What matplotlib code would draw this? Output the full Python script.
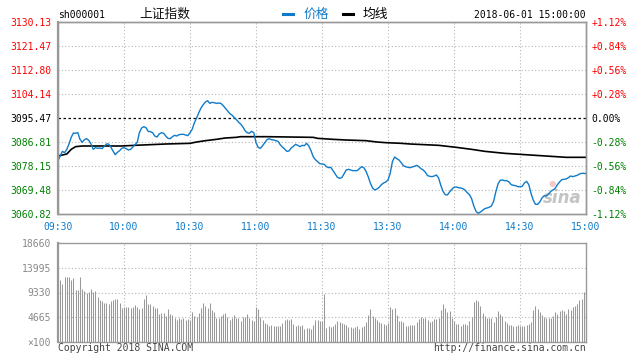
import matplotlib
matplotlib.use("Agg")
import matplotlib.pyplot as plt
from matplotlib.lines import Line2D

plt.rcParams["font.family"] = ["DejaVu Sans Mono", "Noto Sans CJK SC"]

# ---- data (SSE Composite, 2018-06-01) ----
prev_close = 3095.47
price_ticks = [3060.82, 3069.48, 3078.15, 3086.81, 3095.47, 3104.14, 3112.80, 3121.47, 3130.13]
pct_labels = ["-1.12%", "-0.84%", "-0.56%", "-0.28%", "0.00%", "+0.28%", "+0.56%", "+0.84%", "+1.12%"]
time_labels = ["09:30", "10:00", "10:30", "11:00", "11:30", "13:30", "14:00", "14:30", "15:00"]
vol_ticks = [0, 4665, 9330, 13995, 18660]
vol_labels = ["\u00d7100", "4665", "9330", "13995", "18660"]

# one price per minute, 09:30 .. 11:30 then 13:01 .. 15:00
price = [
    3080.07, 3081.76, 3083.44, 3082.96, 3084.16, 3086.09, 3088.49, 3090.06, 3089.94, 3090.18,
    3087.77, 3086.69, 3087.65, 3088.01, 3087.41, 3086.09, 3084.16, 3084.76, 3084.52, 3084.64,
    3084.40, 3085.25, 3086.09, 3086.09, 3085.01, 3083.56, 3082.24, 3083.08, 3083.68, 3084.52,
    3084.76,
    3084.40, 3083.92, 3084.16, 3085.01, 3085.85, 3086.69, 3090.18, 3091.86, 3092.34, 3091.98,
    3090.66, 3090.54, 3090.18, 3088.97, 3088.61, 3089.70, 3090.18, 3089.94, 3088.97, 3088.13,
    3088.01, 3088.73, 3089.22, 3088.97, 3089.46, 3089.58, 3089.58, 3089.34, 3089.10, 3090.18,
    3091.38, 3093.79, 3095.47, 3097.39, 3099.08, 3100.28, 3101.24, 3101.72, 3100.76, 3101.12,
    3101.00, 3100.76, 3100.88, 3100.76, 3100.04, 3099.08, 3098.12, 3097.15, 3096.55, 3095.71,
    3094.99, 3094.03, 3093.30, 3092.34, 3090.90, 3090.18, 3089.94, 3090.66, 3090.18, 3086.57,
    3084.89, 3084.52, 3085.49, 3086.57, 3087.65, 3088.01, 3087.65, 3087.53, 3087.29, 3087.05,
    3085.85, 3085.01, 3084.28, 3083.44, 3083.56, 3084.64, 3085.25, 3085.97, 3085.61, 3085.13,
    3085.61, 3085.49, 3086.33, 3085.37, 3083.68, 3081.52, 3080.43, 3079.71, 3078.99, 3078.87,
    3078.75, 3077.91, 3077.55, 3077.67, 3076.47, 3075.26, 3074.06, 3073.70, 3073.94, 3075.26,
    3076.71, 3076.95, 3076.71, 3076.47, 3076.47, 3076.47, 3077.19, 3077.91, 3077.55, 3076.23,
    3074.30, 3071.90, 3070.21, 3069.49, 3069.85, 3070.45, 3071.41, 3072.02, 3072.38, 3073.10,
    3075.50, 3079.71, 3081.40, 3080.80, 3080.31, 3079.35, 3078.27, 3077.91, 3077.67, 3077.55,
    3077.79, 3078.03, 3078.39, 3077.91, 3077.19, 3076.71, 3075.86, 3074.66, 3074.42, 3074.30,
    3074.54, 3074.90, 3073.82, 3071.17, 3069.01, 3067.81, 3067.69, 3068.77, 3069.73, 3070.45,
    3070.57, 3070.33, 3070.21, 3069.97, 3069.49, 3068.53, 3067.81, 3066.36, 3063.72, 3061.79,
    3061.07, 3061.55, 3062.15, 3062.75, 3063.00, 3063.24, 3063.72, 3065.40, 3068.77, 3071.65,
    3072.98, 3073.10, 3072.86, 3072.86, 3072.38, 3071.41, 3071.17, 3071.05, 3070.69, 3070.69,
    3070.81, 3072.02, 3072.62, 3071.41, 3068.29, 3065.88, 3064.32, 3064.32, 3065.16, 3066.60,
    3067.44, 3067.32, 3068.05, 3069.01, 3069.49, 3070.09, 3071.41, 3072.38, 3073.22, 3073.34,
    3073.46, 3073.94, 3074.54, 3074.30, 3074.54, 3074.78, 3075.26, 3075.50, 3075.50, 3075.38,
]

# average price line, read at a few minutes
avg_minutes = [0, 4, 6, 8, 11, 29, 35, 49, 60, 63, 67, 72, 76, 81, 83, 95, 116, 118,
               125, 131, 140, 145, 149, 156, 160, 173, 181, 188, 194, 203, 217, 231, 240]
avg_price = [3081.76, 3082.48, 3084.16, 3085.13, 3085.37, 3085.37, 3085.61, 3086.09, 3086.33,
             3086.81, 3087.29, 3087.77, 3088.25, 3088.49, 3088.73, 3088.73, 3088.49, 3088.13,
             3087.77, 3087.53, 3087.29, 3086.81, 3086.57, 3086.33, 3086.09, 3085.61, 3084.89,
             3084.16, 3083.44, 3082.72, 3082.00, 3081.28, 3081.28]

# volume per minute (lots), minutes 1 .. 240
volume = [
    11694, 11009, 12253, 12253, 12253, 11694, 12067, 9828, 9828, 12316,
    10014, 9641, 9206, 9454, 10014, 9454, 9641, 8521, 7962, 7775,
    7402, 7402, 7215, 7775, 7962, 8148, 8148, 7402, 6469, 6655,
    6655, 6655, 6469, 6655, 7029, 6655, 6282, 6469, 8148, 8895,
    7215, 7215, 6842, 6469, 6469, 5349, 5536, 5536, 4976, 6282,
    5349, 5163, 4603, 4230, 4603, 4416, 4603, 4230, 4416, 4230,
    5722, 4976, 4790, 5536, 6469, 7402, 6842, 6469, 7402, 6096,
    5722, 4603, 4603, 4976, 5349, 5536, 4790, 4230, 4603, 5163,
    4603, 4603, 4043, 4790, 4790, 5349, 4603, 4230, 4043, 6655,
    6282, 4790, 4230, 3670, 3483, 2924, 3297, 2924, 2924, 3110,
    3110, 3670, 4230, 4416, 4230, 4416, 3483, 2924, 3297, 2924,
    3297, 2364, 2551, 2551, 2364, 3297, 4230, 4230, 4043, 4043,
    9019, 2551, 3110, 2737, 2924, 3483, 4043, 3857, 3670, 3483,
    3297, 2737, 2737, 2551, 2737, 2924, 2364, 2737, 3110, 3857,
    5163, 6282, 4976, 4603, 4230, 3857, 3670, 3483, 3297, 3670,
    6655, 6282, 6469, 5163, 4043, 4043, 3857, 3110, 3110, 3297,
    3297, 3297, 3857, 4416, 4790, 4603, 4603, 4230, 3857, 4043,
    4416, 4416, 4603, 6096, 7215, 6469, 5722, 5909, 4603, 4043,
    3483, 3483, 3110, 3483, 3483, 3297, 4043, 4790, 7588, 7962,
    7775, 6842, 5536, 4976, 4603, 4603, 4603, 3857, 4790, 5909,
    5349, 4976, 4043, 3670, 3297, 3297, 3110, 3110, 3297, 3110,
    3110, 3110, 3297, 3483, 3857, 6096, 6842, 6282, 5722, 5163,
    4790, 4603, 4603, 4603, 4976, 5722, 5349, 5909, 6096, 5909,
    5349, 6282, 6096, 6655, 6842, 7215, 7962, 8148, 9454, 11694,
]

W, H = 643, 364
BLUE = "#0f7bc9"
RED = "#ff0000"
GREEN = "#008000"
GRID = "#b4b4b4"
FRAME = "#999999"

fig = plt.figure(figsize=(W / 100, H / 100), dpi=100)
ax = fig.add_axes([58 / W, 1 - 214 / H, 528 / W, 192 / H])
axv = fig.add_axes([58 / W, 1 - 342 / H, 528 / W, 99 / H])

minutes = list(range(len(price)))
tick_minutes = [30 * i for i in range(len(time_labels))]

# ---- price panel ----
for t in tick_minutes[1:-1]:
    ax.axvline(t, color=GRID, lw=0.8, ls=(0, (1, 2)), zorder=1)
for p in price_ticks[1:-1]:
    if p == prev_close:
        ax.axhline(p, color="black", lw=0.9, ls=(0, (2, 2)), zorder=2)
    else:
        ax.axhline(p, color=GRID, lw=0.8, ls=(0, (1, 2)), zorder=1)

ax.plot(avg_minutes, avg_price, color="black", lw=1.2, zorder=3)
ax.plot(minutes, price, color=BLUE, lw=1.0, zorder=4)

ax.set_xlim(0, 240)
ax.set_ylim(price_ticks[0], price_ticks[-1])
ax.set_xticks(tick_minutes)
ax.set_xticklabels(time_labels, color=BLUE, fontsize=7)
ax.set_yticks(price_ticks)
ax.set_yticklabels([f"{p:.2f}" for p in price_ticks], fontsize=7)
ax.tick_params(axis="x", length=0, pad=6)
ax.tick_params(axis="y", length=0, pad=5)
for lab, p in zip(ax.get_yticklabels(), price_ticks):
    lab.set_color(RED if p > prev_close else GREEN if p < prev_close else "black")

axr = ax.twinx()
axr.set_ylim(price_ticks[0], price_ticks[-1])
axr.set_yticks(price_ticks)
axr.set_yticklabels(pct_labels, fontsize=7)
axr.tick_params(axis="y", length=0, pad=4)
for lab, p in zip(axr.get_yticklabels(), price_ticks):
    lab.set_color(RED if p > prev_close else GREEN if p < prev_close else "black")

for a in (ax, axr):
    for s in a.spines.values():
        s.set_color(FRAME)
        s.set_linewidth(1.0)
ax.spines["left"].set_linewidth(1.6)

# sina watermark
ax.text(0.955, 0.035, "sina", transform=ax.transAxes, fontsize=12, color="#c4c4c4",
        fontstyle="italic", fontweight="bold", family="DejaVu Sans", ha="center",
        va="bottom", zorder=0)
ax.text(0.935, 0.135, "\u25cf", transform=ax.transAxes, fontsize=6, color="#f6c8c8",
        family="DejaVu Sans", ha="center", va="bottom", zorder=0)

# ---- volume panel ----
for t in tick_minutes[1:-1]:
    axv.axvline(t, color=GRID, lw=0.8, ls=(0, (1, 2)), zorder=1)
for v in vol_ticks[1:-1]:
    axv.axhline(v, color=GRID, lw=0.8, ls=(0, (1, 2)), zorder=1)
axv.vlines(range(1, len(volume) + 1), 0, volume, colors="#999999", lw=0.75, zorder=2)

axv.set_xlim(0, 240)
axv.set_ylim(vol_ticks[0], vol_ticks[-1])
axv.set_xticks([])
axv.set_yticks(vol_ticks)
axv.set_yticklabels(vol_labels, fontsize=7, color="#888888")
axv.tick_params(axis="y", length=0, pad=5)
for s in axv.spines.values():
    s.set_color(FRAME)
    s.set_linewidth(1.0)
axv.spines["left"].set_linewidth(1.6)

# ---- header and footer ----
fig.text(58 / W, 1 - 15 / H, "sh000001", fontsize=7, color="black", va="center")
fig.text(139 / W, 1 - 14 / H, "上证指数", fontsize=9.2, color="#111111", va="center",
         family=["Noto Sans CJK SC", "DejaVu Sans"])
fig.add_artist(Line2D([283 / W, 293 / W], [1 - 14 / H, 1 - 14 / H], color=BLUE, lw=2.2))
fig.text(304 / W, 1 - 14 / H, "价格", fontsize=9.2, color=BLUE, va="center",
         family=["Noto Sans CJK SC", "DejaVu Sans"])
fig.add_artist(Line2D([343 / W, 353 / W], [1 - 14 / H, 1 - 14 / H], color="black", lw=2.2))
fig.text(363 / W, 1 - 14 / H, "均线", fontsize=9.2, color="black", va="center",
         family=["Noto Sans CJK SC", "DejaVu Sans"])
fig.text(586 / W, 1 - 15 / H, "2018-06-01 15:00:00", fontsize=7, color="black",
         va="center", ha="right")
fig.text(58 / W, 1 - 348 / H, "Copyright 2018 SINA.COM", fontsize=7, color="#444444",
         va="center")
fig.text(586 / W, 1 - 348 / H, "http://finance.sina.com.cn", fontsize=7, color="#444444",
         va="center", ha="right")

fig.savefig("out.png", dpi=100)
